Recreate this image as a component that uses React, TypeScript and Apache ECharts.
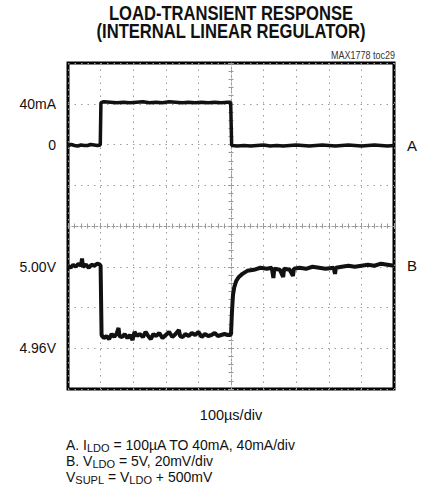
import React, { useEffect, useRef } from "react";
import * as echarts from "echarts";

// Time base: 100 µs/div, 10 divisions
const TIME_MIN = 0;
const TIME_MAX = 1000;
const TIME_STEP = 100;

// Channel A: load current, 40 mA/div, zero two divisions below the top
const CURRENT_MIN = -240;
const CURRENT_MAX = 80;
const CURRENT_STEP = 40;
const CURRENT_LABELS: [number, string][] = [
  [40, "40mA"],
  [0, "0"],
];

// Channel B: LDO output, 20 mV/div
const VOLT_MIN = 4.94;
const VOLT_MAX = 5.1;
const VOLT_STEP = 0.02;
const VOLT_LABELS: [number, string][] = [
  [5.0, "5.00V"],
  [4.96, "4.96V"],
];

// Trace A: [time µs, current mA]
const loadCurrent: [number, number][] = [
  [0, -1], [10, 0], [20, -1], [30, -1.5], [40, -0.5], [50, -1], [60, -1], [70, 0], [80, -0.5], [90, -1], [99, -0.5],
  [100, 0], [101, 41],
  [110, 42], [130, 41.5], [150, 41], [170, 41.5], [190, 41], [210, 41.5], [230, 42], [250, 41], [270, 41.5],
  [290, 41], [310, 42], [330, 41.5], [350, 41], [370, 41.5], [390, 41], [410, 41.5], [430, 41], [450, 41.5],
  [470, 41], [490, 41.5], [499, 41.5],
  [500, 41], [502, -1],
  [520, -1.5], [540, -1], [560, -1.5], [580, -1], [600, -0.5], [620, -1.5], [640, -1], [660, -1.5], [680, -1],
  [700, -0.5], [720, -1], [740, -1.5], [760, -1], [780, -0.5], [800, -1], [820, -1.5], [840, -1], [860, -0.5],
  [880, -1], [900, -1.5], [920, -1], [940, -0.5], [960, -1], [980, -1.5], [1000, -1],
];

// Trace B: [time µs, output V]
const outputVoltage: [number, number][] = [
  [0, 5.0005], [8, 4.9995], [16, 5.001], [24, 5.0], [32, 5.0015], [40, 5.0005], [43, 5.004], [46, 5.0],
  [55, 5.001], [64, 4.9995], [72, 5.001], [80, 5.0005], [90, 5.0015], [98, 5.001],
  [100, 5.0005], [103, 4.9665],
  [110, 4.965], [118, 4.966], [126, 4.9645], [134, 4.967], [142, 4.9655], [150, 4.9675], [155, 4.97],
  [158, 4.966], [166, 4.9655], [174, 4.967], [182, 4.965], [190, 4.9665], [198, 4.964], [204, 4.968],
  [212, 4.966], [220, 4.967], [230, 4.9655], [238, 4.968], [246, 4.966], [254, 4.9645], [262, 4.967],
  [270, 4.966], [280, 4.9675], [290, 4.965], [300, 4.9665], [310, 4.968], [320, 4.9655], [330, 4.967],
  [340, 4.969], [344, 4.966], [352, 4.9655], [360, 4.967], [370, 4.966], [380, 4.9675], [390, 4.9665],
  [400, 4.968], [410, 4.9655], [420, 4.967], [430, 4.966], [440, 4.9665], [450, 4.9675], [460, 4.966],
  [470, 4.9665], [480, 4.967], [490, 4.9665], [498, 4.9665],
  [500, 4.967], [503, 4.978], [506, 4.986], [510, 4.99], [516, 4.993], [524, 4.995], [535, 4.9965],
  [550, 4.998], [570, 4.9985], [590, 4.9995], [610, 4.999], [625, 4.9995], [630, 4.9945], [633, 4.999],
  [650, 4.9985], [660, 4.995], [663, 4.999], [680, 4.9985], [690, 4.9955], [693, 4.999], [710, 4.9995],
  [730, 4.999], [750, 5.0], [770, 4.9995], [790, 4.999], [815, 4.9995], [819, 4.9965], [822, 4.9995],
  [840, 5.0], [860, 5.0005], [880, 5.0], [900, 5.0005], [920, 5.001], [940, 5.0005], [960, 5.0015],
  [980, 5.001], [1000, 5.0005],
];

const FONT = "'Liberation Sans', Arial, Helvetica, sans-serif";
const INK = "#111";
const GRID_GRAY = "#9a9a9a";

const labelFor = (table: [number, string][]) => (v: number) => {
  const hit = table.find(([val]) => Math.abs(val - v) < 1e-6);
  return hit ? hit[1] : "";
};

// Center ruler (graticule cross with 1/5-division marks)
const rulerX = (inside: boolean, showLine: boolean) => ({
  type: "value",
  gridIndex: 0,
  min: -5,
  max: 5,
  interval: 1,
  position: "bottom",
  axisLine: {
    show: showLine,
    onZero: true,
    onZeroAxisIndex: 2,
    lineStyle: { color: GRID_GRAY, width: 1, type: [2, 2] },
  },
  axisTick: { show: true, inside, length: 3, lineStyle: { color: GRID_GRAY, width: 1 } },
  minorTick: { show: true, splitNumber: 5, length: 2.5, lineStyle: { color: GRID_GRAY, width: 1 } },
  axisLabel: { show: false },
  splitLine: { show: false },
});

const rulerY = (inside: boolean, showLine: boolean) => ({
  type: "value",
  gridIndex: 0,
  min: -4,
  max: 4,
  interval: 1,
  position: "left",
  axisLine: {
    show: showLine,
    onZero: true,
    onZeroAxisIndex: 1,
    lineStyle: { color: GRID_GRAY, width: 1, type: [2, 2] },
  },
  axisTick: { show: true, inside, length: 3, lineStyle: { color: GRID_GRAY, width: 1 } },
  minorTick: { show: true, splitNumber: 5, length: 2.5, lineStyle: { color: GRID_GRAY, width: 1 } },
  axisLabel: { show: false },
  splitLine: { show: false },
});

export default function App() {
  const ref = useRef<HTMLDivElement>(null);

  useEffect(() => {
    if (!ref.current) return;
    const chart = echarts.init(ref.current, null, { renderer: "svg" });
    chart.setOption({
      animation: false,
      backgroundColor: "#fff",
      grid: {
        left: 68,
        top: 63,
        width: 326,
        height: 326,
        show: true,
        borderColor: "#000",
        borderWidth: 3,
        backgroundColor: "transparent",
      },
      xAxis: [
        {
          type: "value",
          gridIndex: 0,
          min: TIME_MIN,
          max: TIME_MAX,
          interval: TIME_STEP,
          position: "bottom",
          name: "100µs/div",
          nameLocation: "middle",
          nameGap: 18,
          nameTextStyle: { fontFamily: FONT, fontSize: 14.5, color: INK },
          axisLine: { show: false },
          axisTick: { show: false },
          axisLabel: { show: false },
          splitLine: { show: true, lineStyle: { color: GRID_GRAY, width: 1, type: [1.5, 5] } },
        },
        rulerX(false, true),
        rulerX(true, false),
      ],
      yAxis: [
        {
          type: "value",
          gridIndex: 0,
          min: CURRENT_MIN,
          max: CURRENT_MAX,
          interval: CURRENT_STEP,
          position: "left",
          axisLine: { show: false },
          axisTick: { show: false },
          axisLabel: {
            margin: 12,
            fontFamily: FONT,
            fontSize: 14,
            color: INK,
            formatter: labelFor(CURRENT_LABELS),
          },
          splitLine: { show: true, lineStyle: { color: GRID_GRAY, width: 1, type: [1.5, 5] } },
        },
        {
          type: "value",
          gridIndex: 0,
          min: VOLT_MIN,
          max: VOLT_MAX,
          interval: VOLT_STEP,
          position: "left",
          axisLine: { show: false },
          axisTick: { show: false },
          axisLabel: {
            margin: 12,
            fontFamily: FONT,
            fontSize: 14,
            color: INK,
            formatter: labelFor(VOLT_LABELS),
          },
          splitLine: { show: false },
        },
        rulerY(false, true),
        rulerY(true, false),
      ],
      series: [
        {
          name: "A",
          type: "line",
          xAxisIndex: 0,
          yAxisIndex: 0,
          data: loadCurrent,
          showSymbol: false,
          lineStyle: { color: INK, width: 3.5 },
          endLabel: { show: true, formatter: "A", distance: 13, fontFamily: FONT, fontSize: 15, color: INK },
          z: 5,
        },
        {
          name: "B",
          type: "line",
          xAxisIndex: 0,
          yAxisIndex: 1,
          data: outputVoltage,
          showSymbol: false,
          lineStyle: { color: INK, width: 4 },
          endLabel: { show: true, formatter: "B", distance: 13, fontFamily: FONT, fontSize: 15, color: INK },
          z: 5,
        },
      ],
      graphic: [
        {
          type: "text",
          x: 231,
          y: 4,
          scaleX: 0.79,
          style: {
            text: "LOAD-TRANSIENT RESPONSE\n(INTERNAL LINEAR REGULATOR)",
            align: "center",
            verticalAlign: "top",
            textAlign: "center",
            textVerticalAlign: "top",
            fontFamily: FONT,
            fontWeight: "bold",
            fontSize: 21,
            lineHeight: 18,
            fill: INK,
          },
        },
        {
          type: "text",
          x: 395,
          y: 50,
          scaleX: 0.9,
          style: {
            text: "MAX1778 toc29",
            align: "right",
            textAlign: "right",
            verticalAlign: "top",
            textVerticalAlign: "top",
            fontFamily: FONT,
            fontSize: 10,
            fill: "#333",
          },
        },
        {
          type: "text",
          x: 66,
          y: 437,
          style: {
            fontFamily: FONT,
            fontSize: 14,
            fill: INK,
            lineHeight: 16,
            text:
              "A. I{sub|LDO} = 100µA TO 40mA, 40mA/div\n" +
              "B. V{sub|LDO} = 5V, 20mV/div\n" +
              "V{sub|SUPL} = V{sub|LDO} + 500mV",
            rich: {
              sub: { fontFamily: FONT, fontSize: 11, lineHeight: 12, verticalAlign: "bottom", fill: INK },
            },
          },
        },
      ],
    });
    return () => chart.dispose();
  }, []);

  return (
    <div
      ref={ref}
      style={{ position: "fixed", left: 0, top: 0, width: 427, height: 501, background: "#fff" }}
    />
  );
}
